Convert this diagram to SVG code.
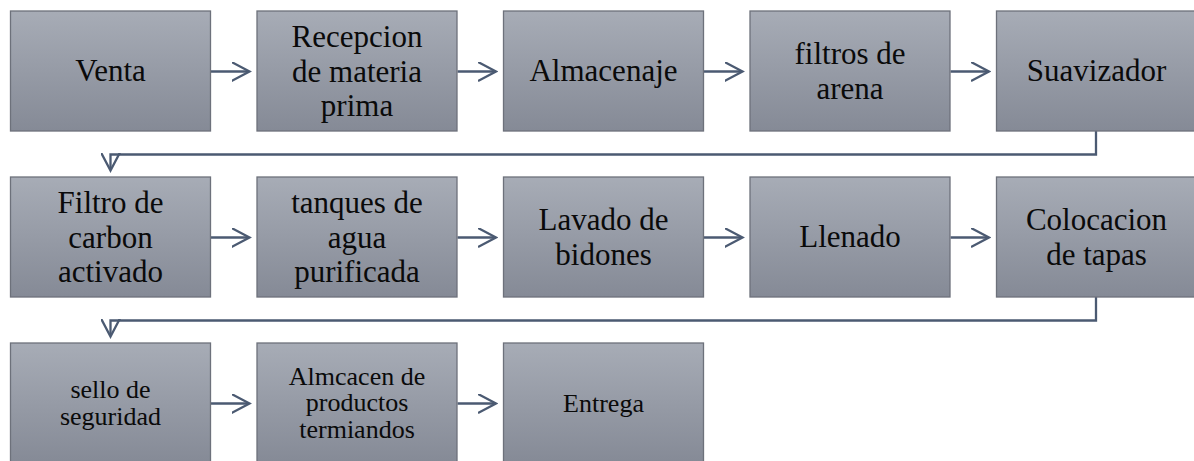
<svg xmlns="http://www.w3.org/2000/svg" width="1194" height="461" viewBox="0 0 1194 461">
<defs>
<linearGradient id="g" x1="0" y1="0" x2="0" y2="1">
<stop offset="0" stop-color="#a7acb6"/>
<stop offset="1" stop-color="#858a96"/>
</linearGradient>
<marker id="chev" viewBox="0 0 20 20" refX="17.5" refY="10" markerWidth="20" markerHeight="20" markerUnits="userSpaceOnUse" orient="auto">
<path d="M0,0.5 L18,10 L0,19.5" fill="none" stroke="#4b5a72" stroke-width="2.3"/>
</marker>
<style>
.b{fill:url(#g);stroke:#6d717b;stroke-width:1.3}
.t{font-family:'Liberation Serif','Times New Roman',serif;font-size:31px;fill:#0a0a0a;text-anchor:middle}
.s{font-size:26px}
.c{fill:none;stroke:#4b5a72;stroke-width:2.3;marker-end:url(#chev)}
</style>
</defs>
<rect width="1194" height="461" fill="#ffffff"/>
<g id="connectors">
<path class="c" d="M211,71.5 H249"/>
<path class="c" d="M457.5,71.5 H495.5"/>
<path class="c" d="M704,71.5 H742"/>
<path class="c" d="M950.5,71.5 H988.5"/>
<path class="c" d="M1096,131 V154.5 H110.5 V170"/>
<path class="c" d="M211,237.5 H249"/>
<path class="c" d="M457.5,237.5 H495.5"/>
<path class="c" d="M704,237.5 H742"/>
<path class="c" d="M950.5,237.5 H988.5"/>
<path class="c" d="M1096,297 V320.5 H110.5 V336"/>
<path class="c" d="M211,403.5 H249"/>
<path class="c" d="M457.5,403.5 H495.5"/>
</g>
<g id="n1"><rect class="b" x="10.5" y="11" width="200" height="120"/><text class="t" x="110.5" y="81">Venta</text></g>
<g id="n2"><rect class="b" x="257" y="11" width="200" height="120"/><text class="t" x="357" y="47.3">Recepcion</text><text class="t" x="357" y="81.7">de materia</text><text class="t" x="357" y="116">prima</text></g>
<g id="n3"><rect class="b" x="503.5" y="11" width="200" height="120"/><text class="t" x="603.5" y="81">Almacenaje</text></g>
<g id="n4"><rect class="b" x="750" y="11" width="200" height="120"/><text class="t" x="850" y="64.3">filtros de</text><text class="t" x="850" y="98.7">arena</text></g>
<g id="n5"><rect class="b" x="996.5" y="11" width="200" height="120"/><text class="t" x="1096.5" y="81">Suavizador</text></g>
<g id="n6"><rect class="b" x="10.5" y="177" width="200" height="120"/><text class="t" x="110.5" y="213.3">Filtro de</text><text class="t" x="110.5" y="247.7">carbon</text><text class="t" x="110.5" y="282">activado</text></g>
<g id="n7"><rect class="b" x="257" y="177" width="200" height="120"/><text class="t" x="357" y="213.3">tanques de</text><text class="t" x="357" y="247.7">agua</text><text class="t" x="357" y="282">purificada</text></g>
<g id="n8"><rect class="b" x="503.5" y="177" width="200" height="120"/><text class="t" x="603.5" y="230.3">Lavado de</text><text class="t" x="603.5" y="264.7">bidones</text></g>
<g id="n9"><rect class="b" x="750" y="177" width="200" height="120"/><text class="t" x="850" y="247">Llenado</text></g>
<g id="n10"><rect class="b" x="996.5" y="177" width="200" height="120"/><text class="t" x="1096.5" y="230.3">Colocacion</text><text class="t" x="1096.5" y="264.7">de tapas</text></g>
<g id="n11"><rect class="b" x="10.5" y="343" width="200" height="120"/><text class="t s" x="110.5" y="398">sello de</text><text class="t s" x="110.5" y="425">seguridad</text></g>
<g id="n12"><rect class="b" x="257" y="343" width="200" height="120"/><text class="t s" x="357" y="384.7">Almcacen de</text><text class="t s" x="357" y="411.3">productos</text><text class="t s" x="357" y="438">termiandos</text></g>
<g id="n13"><rect class="b" x="503.5" y="343" width="200" height="120"/><text class="t s" x="603.5" y="411.5">Entrega</text></g>
</svg>
